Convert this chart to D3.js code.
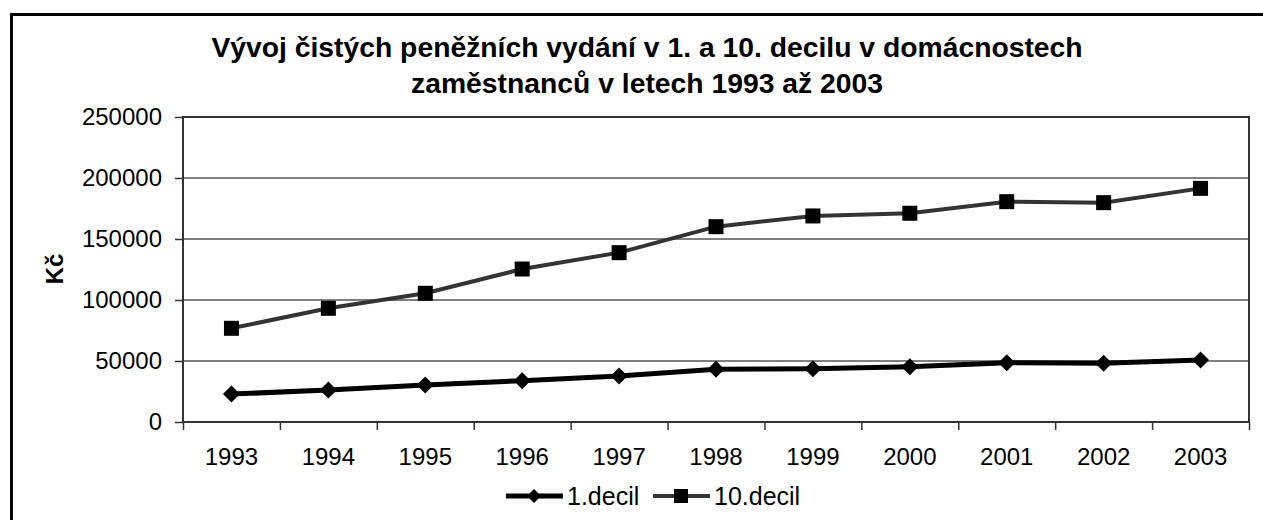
<!DOCTYPE html>
<html>
<head>
<meta charset="utf-8">
<script src="https://cdn.jsdelivr.net/npm/d3@7"></script>
<style>
  html, body { margin: 0; padding: 0; background: #fff; overflow: hidden; }
  svg { display: block; font-family: Arial, "Liberation Sans", sans-serif; }
</style>
</head>
<body>
<div id="chart"></div>
<script>
// chart data
const years = ['1993','1994','1995','1996','1997','1998','1999','2000','2001','2002','2003'];
const decil1 = [22900, 26200, 30300, 33900, 37700, 43200, 43700, 45300, 48600, 48100, 50800];
const decil10 = [76800, 93200, 105500, 125400, 138800, 160100, 168900, 171100, 180600, 179800, 191500];
const yTicks = [0, 50000, 100000, 150000, 200000, 250000];
const titleLines = ['Vývoj čistých peněžních vydání v 1. a 10. decilu v domácnostech',
                    'zaměstnanců v letech 1993 až 2003'];
const seriesNames = ['1.decil', '10.decil'];

(function(){
  const W = 1263, H = 520;
  const svg = d3.select('#chart').append('svg').attr('width', W).attr('height', H);

  // outer chart frame: only left and top edges show in the reference
  svg.append('path').attr('d', `M11.5,${H + 10}V14.5H${W + 10}`)
    .attr('fill', 'none').attr('stroke', '#000').attr('stroke-width', 3);

  const plot = { left: 183, top: 117, right: 1249, bottom: 422 };

  const x = d3.scaleBand().domain(years).range([plot.left, plot.right]).padding(0);
  const xEdges = d3.scaleLinear().domain([0, years.length]).range([plot.left, plot.right]);
  const y = d3.scaleLinear().domain([0, 250000]).range([plot.bottom, plot.top]);

  // title
  svg.append('g').selectAll('text').data(titleLines).enter().append('text')
    .attr('x', 647).attr('y', (d,i) => 57 + i*36)
    .attr('text-anchor', 'middle').attr('font-weight', 700).attr('font-size', 28.3)
    .attr('fill', '#000').text(d => d);

  // gridlines
  svg.append('g').selectAll('line').data(yTicks.filter(v => v > 0 && v < 250000)).enter().append('line')
    .attr('x1', plot.left).attr('x2', plot.right)
    .attr('y1', d => y(d)).attr('y2', d => y(d))
    .attr('stroke', '#000').attr('stroke-width', 1);

  // plot border
  svg.append('rect').attr('x', plot.left).attr('y', plot.top)
    .attr('width', plot.right - plot.left).attr('height', plot.bottom - plot.top)
    .attr('fill', 'none').attr('stroke', '#333').attr('stroke-width', 2);

  // y axis
  const yAxis = svg.append('g').attr('transform', `translate(${plot.left},0)`)
    .call(d3.axisLeft(y).tickValues(yTicks).tickFormat(d3.format('d')).tickSize(8).tickPadding(13));
  yAxis.select('.domain').remove();
  yAxis.selectAll('line').attr('stroke', '#333').attr('stroke-width', 1.5);
  yAxis.selectAll('text').attr('font-size', 24).attr('fill', '#000')
    .attr('font-family', 'Arial, "Liberation Sans", sans-serif');

  // x axis: ticks between categories, labels centered
  const xTickG = svg.append('g').attr('transform', `translate(0,${plot.bottom})`)
    .call(d3.axisBottom(xEdges).ticks(years.length).tickFormat('').tickSize(8));
  xTickG.select('.domain').remove();
  xTickG.selectAll('line').attr('stroke', '#333').attr('stroke-width', 1.5);

  const xLab = svg.append('g').attr('transform', `translate(0,${plot.bottom})`)
    .call(d3.axisBottom(x).tickSize(0).tickPadding(26));
  xLab.select('.domain').remove();
  xLab.selectAll('text').attr('font-size', 24).attr('fill', '#000')
    .attr('font-family', 'Arial, "Liberation Sans", sans-serif');

  // y axis title
  svg.append('text')
    .attr('transform', `translate(63,269) rotate(-90)`)
    .attr('text-anchor', 'middle').attr('font-weight', 700).attr('font-size', 24)
    .text('Kč');

  const cx = i => x(years[i]) + x.bandwidth() / 2;
  const line = d3.line().x((d,i) => cx(i)).y(d => y(d));
  const diamondPath = s => `M0,${-s}L${s},0L0,${s}L${-s},0Z`;

  // 10.decil
  svg.append('path').datum(decil10).attr('d', line)
    .attr('fill', 'none').attr('stroke', '#333').attr('stroke-width', 4);
  svg.append('g').selectAll('rect').data(decil10).enter().append('rect')
    .attr('x', (d,i) => cx(i) - 7.5).attr('y', d => y(d) - 7.5)
    .attr('width', 15).attr('height', 15).attr('fill', '#000');

  // 1.decil
  svg.append('path').datum(decil1).attr('d', line)
    .attr('fill', 'none').attr('stroke', '#000').attr('stroke-width', 5);
  svg.append('g').selectAll('path').data(decil1).enter().append('path')
    .attr('transform', (d,i) => `translate(${cx(i)},${y(d)})`)
    .attr('d', diamondPath(8.5)).attr('fill', '#000');

  // legend
  const legend = svg.append('g').attr('transform', 'translate(506,496)');
  const items = [
    { name: seriesNames[0], x: 0, stroke: '#000', w: 5, marker: 'diamond' },
    { name: seriesNames[1], x: 147, stroke: '#333', w: 4, marker: 'square' }
  ];
  items.forEach(it => {
    const g = legend.append('g').attr('transform', `translate(${it.x},0)`);
    g.append('line').attr('x1', 0).attr('x2', 57).attr('y1', 0).attr('y2', 0)
      .attr('stroke', it.stroke).attr('stroke-width', it.w);
    if (it.marker === 'diamond') {
      g.append('path').attr('transform', 'translate(28,0)').attr('d', diamondPath(7)).attr('fill', '#000');
    } else {
      g.append('rect').attr('x', 21).attr('y', -7).attr('width', 14).attr('height', 14).attr('fill', '#000');
    }
    g.append('text').attr('x', 61).attr('y', 9).attr('font-size', 25).attr('fill', '#000').text(it.name);
  });
})();
</script>
</body>
</html>
